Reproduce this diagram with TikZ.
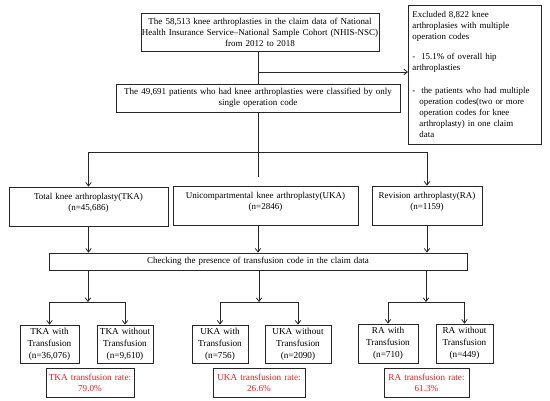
\documentclass[tikz,border=0pt]{standalone}
\usepackage{fontspec}
\setmainfont{Liberation Serif}[WordSpace=1.35]
\usetikzlibrary{arrows.meta}
\definecolor{ratered}{RGB}{232,32,38}
\begin{document}
\begin{tikzpicture}[x=1pt,y=-1pt,
  every node/.style={font=\fontsize{9}{11}\selectfont},
  box/.style={draw=black!85, line width=0.8pt, inner sep=0pt, align=center},
  smallbox/.style={box, font=\fontsize{9.2}{12}\selectfont},
  ratebox/.style={box, text=ratered, font=\fontsize{9.2}{11}\selectfont},
  conn/.style={draw=black!85, line width=0.8pt},
  arr/.style={conn, -{Straight Barb[length=3.5pt,width=5.5pt,line width=0.8pt]}}]
\useasboundingbox (0,0) rectangle (550,401);
\fill[white] (0,0) rectangle (550,401);
% top
\node[box, minimum width=238pt, minimum height=38pt] (top) at (260,32)
  {The 58,513 knee arthroplasties in the claim data of National\\
   Health Insurance Service--National Sample Cohort (NHIS-NSC)\\
   from 2012 to 2018};
\node[box, minimum width=284pt, minimum height=28pt] (second) at (258,98)
  {The 49,691 patients who had knee arthroplasties were classified by only\\
   single operation code};
\node[box, minimum width=133pt, minimum height=139pt, anchor=north west, align=left,
      text width=131pt, inner xsep=1pt, font=\fontsize{8.9}{11}\selectfont] (excl) at (408,5)
  {\hspace*{3pt}Excluded 8,822 knee\\
   \hspace*{3pt}arthroplasies with multiple\\
   \hspace*{3pt}operation codes\\[9pt]
   \hspace*{3pt}-\ \ 15.1\% of overall hip\\
   \hspace*{3pt}arthroplasties\\[12pt]
   \hspace*{3pt}-\ \ the patients who had multiple\\
   \hspace*{10pt}operation codes(two or more\\
   \hspace*{10pt}operation codes for knee\\
   \hspace*{10pt}arthroplasty) in one claim\\
   \hspace*{10pt}data};
\coordinate (jx) at (258,72);
\draw[conn] (top.south -| jx) -- (second.north -| jx);
\draw[arr] (jx) -- (jx -| excl.west);
% level 3
\node[box, minimum width=159pt, minimum height=39pt, text depth=9pt] (tka) at (88.5,206.5)
  {Total knee arthroplasty(TKA)\\(n=45,686)};
\node[box, minimum width=185pt, minimum height=39pt, text depth=9pt] (uka) at (265.5,205.5)
  {Unicompartmental knee arthroplasty(UKA)\\(n=2846)};
\node[box, minimum width=110pt, minimum height=39pt, text depth=9pt] (ra) at (427,205.5)
  {Revision arthroplasty(RA)\\(n=1159)};
\coordinate (j3) at (258,152);
\coordinate (stub) at (258,177);
\draw[conn] (second.south -| j3) -- (stub);
\draw[arr] (j3) -| (tka.north);
\draw[arr] (j3) -| (ra.north);
% checking
\node[box, minimum width=418pt, minimum height=17pt] (chk) at (258,261.5)
  {Checking the presence of transfusion code in the claim data};
\draw[arr] (tka.south) -- (tka.south |- chk.north);
\draw[arr] (uka.south -| j3) -- (j3 |- chk.north);
\draw[arr] (ra.south) -- (ra.south |- chk.north);
% level 4
\node[smallbox, minimum width=59pt, minimum height=38pt] (tkaw) at (49.5,344)
  {TKA with\\Transfusion\\(n=36,076)};
\node[smallbox, minimum width=56pt, minimum height=38pt] (tkawo) at (125,344)
  {TKA without\\Transfusion\\(n=9,610)};
\node[ratebox, minimum width=88pt, minimum height=29pt] (tkar) at (90,382.5)
  {TKA transfusion rate:\\79.0\%};
\node[smallbox, minimum width=56pt, minimum height=38pt] (ukaw) at (220,344)
  {UKA with\\Transfusion\\(n=756)};
\node[smallbox, minimum width=66pt, minimum height=38pt] (ukawo) at (298,344)
  {UKA without\\Transfusion\\(n=2090)};
\node[ratebox, minimum width=92pt, minimum height=29pt] (ukar) at (259,382.5)
  {UKA transfusion rate:\\26.6\%};
\node[smallbox, minimum width=60pt, minimum height=39pt] (raw) at (388,343.5)
  {RA with\\Transfusion\\(n=710)};
\node[smallbox, minimum width=57pt, minimum height=39pt] (rawo) at (464.5,343.5)
  {RA without\\Transfusion\\(n=449)};
\node[ratebox, minimum width=85pt, minimum height=29pt] (rar) at (426.5,382.5)
  {RA transfusion rate:\\61.3\%};
\coordinate (t4) at (88,302);
\coordinate (u4) at (259,302);
\coordinate (r4) at (426,302);
\draw[arr] (chk.south -| t4) -- (t4);
\draw[arr] (chk.south -| u4) -- (u4);
\draw[arr] (chk.south -| r4) -- (r4);
\draw[arr] (t4) -| (tkaw.north);
\draw[arr] (t4) -| (tkawo.north);
\draw[arr] (u4) -| (ukaw.north);
\draw[arr] (u4) -| (ukawo.north);
\draw[arr] (r4) -| (raw.north);
\draw[arr] (r4) -| (rawo.north);
\end{tikzpicture}
\end{document}
